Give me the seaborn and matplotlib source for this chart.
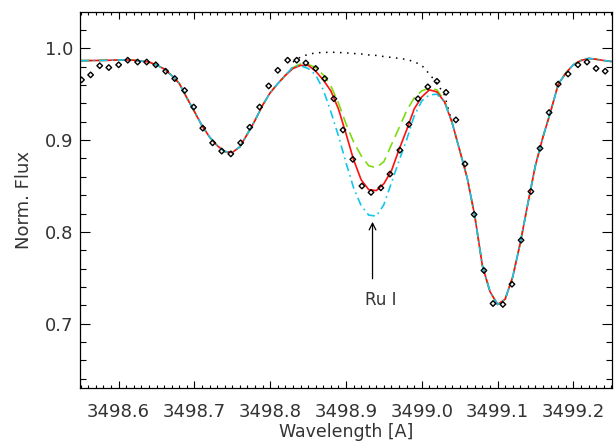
import matplotlib
matplotlib.use("Agg")
import matplotlib.pyplot as plt
import seaborn as sns
from matplotlib.ticker import MultipleLocator, FormatStrFormatter

# ---------------- data ----------------
obs_wave = [3498.551, 3498.563, 3498.575, 3498.587, 3498.600, 3498.612, 3498.625, 3498.637,
            3498.649, 3498.662, 3498.674, 3498.687, 3498.699, 3498.711, 3498.724, 3498.736,
            3498.748, 3498.761, 3498.773, 3498.786, 3498.798, 3498.810, 3498.823, 3498.835,
            3498.847, 3498.860, 3498.872, 3498.884, 3498.896, 3498.909, 3498.921, 3498.933,
            3498.946, 3498.958, 3498.971, 3498.983, 3498.995, 3499.008, 3499.020, 3499.032,
            3499.045, 3499.057, 3499.069, 3499.082, 3499.094, 3499.107, 3499.119, 3499.131,
            3499.144, 3499.156, 3499.168, 3499.180, 3499.193, 3499.206, 3499.218, 3499.230,
            3499.242]
obs_flux = [0.9656, 0.971, 0.981, 0.979, 0.982, 0.987, 0.985, 0.985,
            0.982, 0.975, 0.967, 0.954, 0.936, 0.913, 0.897, 0.888,
            0.885, 0.897, 0.914, 0.936, 0.959, 0.976, 0.987, 0.987,
            0.984, 0.978, 0.967, 0.945, 0.911, 0.879, 0.850, 0.843,
            0.848, 0.863, 0.889, 0.917, 0.945, 0.958, 0.964, 0.952,
            0.922, 0.874, 0.819, 0.758, 0.722, 0.721, 0.743, 0.791,
            0.844, 0.891, 0.930, 0.961, 0.972, 0.982, 0.985, 0.978,
            0.975]

model_wave = [3498.55, 3498.56, 3498.57, 3498.58, 3498.59, 3498.60, 3498.61, 3498.62,
              3498.63, 3498.64, 3498.65, 3498.66, 3498.67, 3498.68, 3498.69, 3498.70,
              3498.71, 3498.72, 3498.73, 3498.74, 3498.75, 3498.76, 3498.77, 3498.78,
              3498.79, 3498.80, 3498.81, 3498.82, 3498.83, 3498.84, 3498.85, 3498.86,
              3498.87, 3498.88, 3498.89, 3498.90, 3498.91, 3498.92, 3498.93, 3498.94,
              3498.95, 3498.96, 3498.97, 3498.98, 3498.99, 3499.00, 3499.01, 3499.02,
              3499.03, 3499.04, 3499.05, 3499.06, 3499.07, 3499.08, 3499.09, 3499.10,
              3499.11, 3499.12, 3499.13, 3499.14, 3499.15, 3499.16, 3499.17, 3499.18,
              3499.19, 3499.20, 3499.21, 3499.22, 3499.23, 3499.24, 3499.25]
model_best = [0.9865, 0.9866, 0.9867, 0.9868, 0.9870, 0.9873, 0.9873, 0.9870,
              0.9860, 0.9850, 0.9818, 0.9775, 0.9704, 0.9617, 0.9460, 0.9310,
              0.9157, 0.9033, 0.8940, 0.8875, 0.8865, 0.8927, 0.9068, 0.9215,
              0.9380, 0.9516, 0.9615, 0.9705, 0.9780, 0.9813, 0.9815, 0.9750,
              0.9655, 0.9536, 0.9340, 0.9070, 0.8786, 0.8568, 0.8460, 0.8450,
              0.8525, 0.8666, 0.8897, 0.9110, 0.9340, 0.9470, 0.9547, 0.9525,
              0.9416, 0.9190, 0.8890, 0.8585, 0.8170, 0.7630, 0.7350, 0.7210,
              0.7267, 0.7510, 0.7880, 0.8310, 0.8726, 0.9036, 0.9310, 0.9607,
              0.9730, 0.9820, 0.9867, 0.9890, 0.9880, 0.9867, 0.9856]

# region around the Ru I line where the alternative fits differ
ru_wave = [3498.83, 3498.84, 3498.85, 3498.86, 3498.87, 3498.88, 3498.89, 3498.90,
           3498.91, 3498.92, 3498.93, 3498.94, 3498.95, 3498.96, 3498.97, 3498.98,
           3498.99, 3499.00, 3499.01, 3499.02, 3499.03]
model_low = [0.9790, 0.9830, 0.9824, 0.9790, 0.9710, 0.9590, 0.9405, 0.9177,
             0.8980, 0.8830, 0.8720, 0.8700, 0.8765, 0.8950, 0.9134, 0.9320,
             0.9460, 0.9536, 0.9565, 0.9547, 0.9430]
model_high = [0.9800, 0.9810, 0.9780, 0.9710, 0.9547, 0.9308, 0.9047, 0.8753,
              0.8480, 0.8286, 0.8183, 0.8172, 0.8297, 0.8536, 0.8775, 0.9003,
              0.9264, 0.9427, 0.9492, 0.9500, 0.9416]

nolu_wave = [3498.83, 3498.84, 3498.85, 3498.86, 3498.87, 3498.88, 3498.89, 3498.90,
             3498.91, 3498.92, 3498.93, 3498.94, 3498.95, 3498.96, 3498.97, 3498.98,
             3498.99, 3499.00, 3499.01, 3499.02, 3499.03, 3499.04]
nolu_flux = [0.9850, 0.9905, 0.9933, 0.9950, 0.9954, 0.9957, 0.9954, 0.9950,
             0.9943, 0.9938, 0.9927, 0.9922, 0.9910, 0.9900, 0.9890, 0.9878,
             0.9854, 0.9813, 0.9720, 0.9620, 0.9490, 0.9190]

label_text = "Ru I"
label_pos = (3498.946, 0.726)
arrow_tip = (3498.935, 0.811)
arrow_tail = (3498.935, 0.749)

# build full alternative curves
i0 = model_wave.index(ru_wave[0])
green_curve = model_best[:i0] + model_low + model_best[i0 + len(ru_wave):]
cyan_curve = model_best[:i0] + model_high + model_best[i0 + len(ru_wave):]

# ---------------- plot ----------------
sns.set_style("ticks")
plt.rcParams['font.family'] = ['DejaVu Sans']
txt_col = '#333333'

fig = plt.figure(figsize=(6.14, 4.45), dpi=100)
ax = fig.add_axes([80 / 614, 57 / 445, 532 / 614, 376 / 445])

sns.lineplot(x=nolu_wave, y=nolu_flux, color='black', lw=1.1, ax=ax)
ax.lines[-1].set_dashes((1, 3.6))
sns.lineplot(x=model_wave, y=green_curve, color='#7ddc10', lw=1.2, ax=ax)
ax.lines[-1].set_dashes((6.5, 3.5))
sns.lineplot(x=model_wave, y=model_best, color='#ff1010', lw=1.2, ax=ax)
sns.lineplot(x=model_wave, y=cyan_curve, color='#10c8e8', lw=1.2, ax=ax)
ax.lines[-1].set_dashes((5, 2.5, 1, 2.5))

sns.scatterplot(x=obs_wave, y=obs_flux, marker='D', s=8, facecolor='none',
                edgecolor='black', linewidth=1.0, ax=ax, zorder=5)

ax.annotate('', xy=arrow_tip, xytext=arrow_tail,
            arrowprops=dict(arrowstyle='->', color='black', lw=0.9,
                            mutation_scale=12, shrinkA=0, shrinkB=0))
ax.text(label_pos[0], label_pos[1], label_text, ha='center', va='center',
        fontsize=12, color=txt_col)

ax.set_xlim(3498.549, 3499.251)
ax.set_ylim(0.630, 1.0395)
ax.xaxis.set_major_locator(MultipleLocator(0.1))
ax.xaxis.set_minor_locator(MultipleLocator(0.01))
ax.yaxis.set_major_locator(MultipleLocator(0.1))
ax.yaxis.set_minor_locator(MultipleLocator(0.02))
ax.xaxis.set_major_formatter(FormatStrFormatter('%.1f'))
ax.yaxis.set_major_formatter(FormatStrFormatter('%.1f'))

ax.tick_params(axis='both', which='both', direction='in', top=True, right=True,
               colors='black', labelcolor=txt_col, labelsize=13, width=0.8)
ax.tick_params(axis='x', which='major', length=4.8, pad=11)
ax.tick_params(axis='x', which='minor', length=2.2)
ax.tick_params(axis='y', which='major', length=7.5, pad=5)
ax.tick_params(axis='y', which='minor', length=4)

for sp in ax.spines.values():
    sp.set_color('black')
    sp.set_linewidth(0.9)

ax.set_xlabel('Wavelength [A]', fontsize=12.5, color=txt_col, labelpad=1)
ax.set_ylabel('Norm. Flux', fontsize=13, color=txt_col, labelpad=8)

fig.savefig('out.png', dpi=100)
